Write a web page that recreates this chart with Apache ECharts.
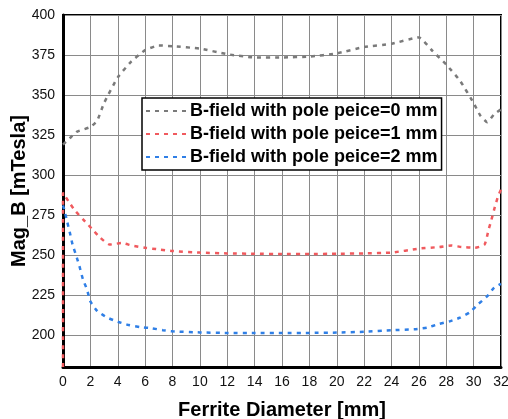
<!DOCTYPE html>
<html>
<head>
<meta charset="utf-8">
<script src="https://cdn.jsdelivr.net/npm/echarts@6/dist/echarts.min.js"></script>
<style>
  html, body { margin: 0; padding: 0; background: #fff; }
  #main { width: 508px; height: 419px; }
</style>
</head>
<body>
<div id="main"></div>
<script>
// tick labels
var xTicks = [0, 2, 4, 6, 8, 10, 12, 14, 16, 18, 20, 22, 24, 26, 28, 30, 32];
var yTicks = [200, 225, 250, 275, 300, 325, 350, 375, 400];

var seriesNames = [
    'B-field with pole peice=0 mm',
    'B-field with pole peice=1 mm',
    'B-field with pole peice=2 mm'
];

// pole piece 0 mm
var x0 = [0, 0.5, 1, 2, 2.5, 3, 4, 5, 6, 7, 8, 10, 12, 14, 16, 18, 20, 22, 24, 26, 27, 28, 29, 30, 30.5, 31, 31.5, 32];
var y0 = [319, 323, 327, 330, 334, 345, 361, 371, 378, 381, 380.5, 379, 375.5, 373.5, 373.5, 374, 376, 380, 382, 386, 377.5, 369, 359, 345, 337, 333, 338, 341];

// pole piece 1 mm
var x1 = [0, 0, 0.4, 0.9, 1.5, 2.1, 2.7, 3.4, 4.3, 5, 6, 7, 8, 10, 12, 14, 16, 18, 20, 22, 24, 26, 27.5, 28.4, 29.1, 30.1, 30.8, 31.1, 31.3, 31.55, 31.8, 32];
var y1 = [180, 289, 283.5, 277.5, 272, 266.5, 261, 256.5, 257.5, 256, 254.5, 253.5, 252.5, 251.5, 251, 250.8, 250.6, 250.6, 250.8, 251, 251.5, 254, 255, 256, 255, 254.5, 256.5, 266, 272, 280, 287, 291];

// pole piece 2 mm
var x2 = [0, 0.1, 0.3, 0.5, 0.7, 0.95, 1.2, 1.45, 1.75, 2, 2.5, 3.2, 4, 4.8, 5.6, 6.5, 7.3, 8, 10, 12, 14, 16, 18, 20, 22, 24, 25.7, 26.6, 27.4, 28.3, 29, 29.7, 30.3, 31, 31.5, 32];
var y2 = [281, 278, 271, 264, 256.5, 250, 243, 235, 228.5, 221, 215, 211, 208.3, 206.2, 205, 204.2, 203, 202.3, 201.6, 201.3, 201.2, 201.2, 201.3, 201.5, 202, 203, 203.6, 204.6, 206.7, 208.7, 210.8, 214, 219, 224.3, 229.6, 232];

var colors = ['#7a7a7a', '#f05a5e', '#2f7fe6'];

function pairs(xs, ys) {
    var out = [];
    for (var i = 0; i < xs.length; i++) {
        out.push([xs[i], ys[i]]);
    }
    return out;
}

var allX = [x0, x1, x2];
var allY = [y0, y1, y2];

var series = [];
for (var i = 0; i < 3; i++) {
    series.push({
        name: seriesNames[i],
        type: 'line',
        symbol: 'none',
        smooth: 0.15,
        clip: true,
        lineStyle: { color: colors[i], width: 2.5, type: [4, 5] },
        itemStyle: { color: colors[i] },
        data: pairs(allX[i], allY[i])
    });
}

var myChart = echarts.init(document.getElementById('main'));

var option = {
    animation: false,
    textStyle: { fontFamily: 'Liberation Sans, Arial, sans-serif' },
    grid: {
        left: 63, right: 7, top: 15, bottom: 52,
        outerBoundsMode: 'none',
        containLabel: false,
        show: true,
        borderColor: '#000',
        borderWidth: 2
    },
    legend: {
        data: seriesNames,
        orient: 'vertical',
        left: 142,
        top: 98,
        width: 303,
        backgroundColor: '#fff',
        borderColor: '#000',
        borderWidth: 1.5,
        padding: [4, 4, 4, 3],
        itemGap: 5,
        itemWidth: 42,
        itemHeight: 18,
        itemStyle: { opacity: 0 },
        textStyle: { fontSize: 18, fontWeight: 'bold', color: '#000', padding: [0, 0, 0, -3] }
    },
    xAxis: {
        type: 'value',
        min: 0,
        max: 32,
        interval: 2,
        name: 'Ferrite Diameter [mm]',
        nameLocation: 'middle',
        nameGap: 33,
        nameMoveOverlap: false,
        nameTextStyle: { fontSize: 20, fontWeight: 'bold', color: '#000' },
        axisLine: { lineStyle: { color: '#000', width: 3 } },
        axisTick: { show: false },
        axisLabel: { fontSize: 14, color: '#111', margin: 8 },
        splitLine: { lineStyle: { color: '#8a8a8a', width: 1 } }
    },
    yAxis: {
        type: 'value',
        min: 180,
        max: 400,
        name: 'Mag_B [mTesla]',
        nameLocation: 'middle',
        nameGap: 34,
        nameMoveOverlap: false,
        nameTextStyle: { fontSize: 20, fontWeight: 'bold', color: '#000' },
        axisLine: { show: true, lineStyle: { color: '#000', width: 3 } },
        axisTick: { show: false, customValues: yTicks },
        axisLabel: { fontSize: 14, color: '#111', margin: 8, customValues: yTicks },
        splitLine: { lineStyle: { color: '#8a8a8a', width: 1 } }
    },
    series: series
};

myChart.setOption(option);
</script>
</body>
</html>
